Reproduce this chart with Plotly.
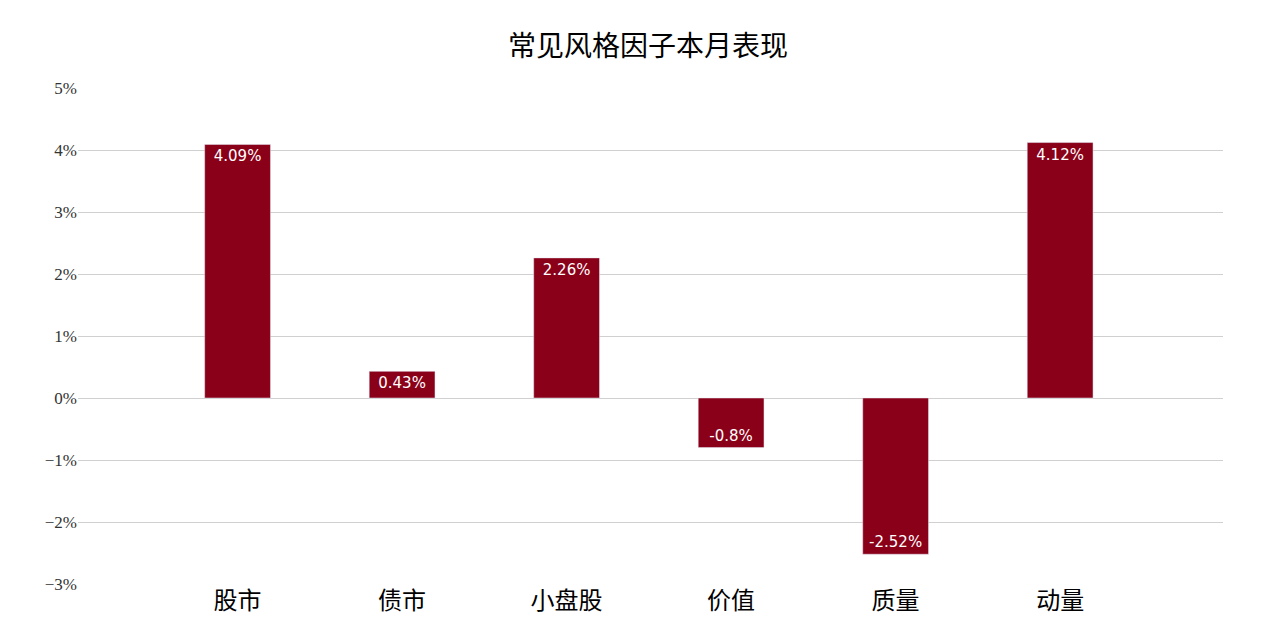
import plotly.graph_objects as go

# style factor returns this month
factors = ['股市', '债市', '小盘股', '价值', '质量', '动量']
returns = [4.09, 0.43, 2.26, -0.8, -2.52, 4.12]
labels = ['4.09%', '0.43%', '2.26%', '-0.8%', '-2.52%', '4.12%']

fig = go.Figure()
fig.add_trace(go.Bar(
    x=factors,
    y=returns,
    width=0.4,
    text=labels,
    textposition='inside',
    insidetextanchor='end',
    textangle=0,
    textfont=dict(family='DejaVu Sans', size=15, color='white'),
    marker=dict(color='#8b0019'),
))

fig.update_layout(
    width=1280, height=639,
    margin=dict(l=70, r=65, t=80, b=63),
    plot_bgcolor='white', paper_bgcolor='white',
    showlegend=False,
    title=dict(text='常见风格因子本月表现', x=0.5, y=0.955,
               font=dict(family='Noto Sans CJK SC', size=28, color='black')),
)
fig.update_xaxes(range=[-0.97, 5.99], showline=False, ticks='',
                 tickfont=dict(family='Noto Sans CJK SC', size=24, color='black'))
fig.update_yaxes(range=[-3, 5], dtick=1, ticksuffix='%', showgrid=True,
                 gridcolor='#d0d0d0', gridwidth=1, zeroline=True,
                 zerolinecolor='#d0d0d0', zerolinewidth=1,
                 tickfont=dict(family='Liberation Serif', size=17, color='#333'))

fig.write_html("out.html")
